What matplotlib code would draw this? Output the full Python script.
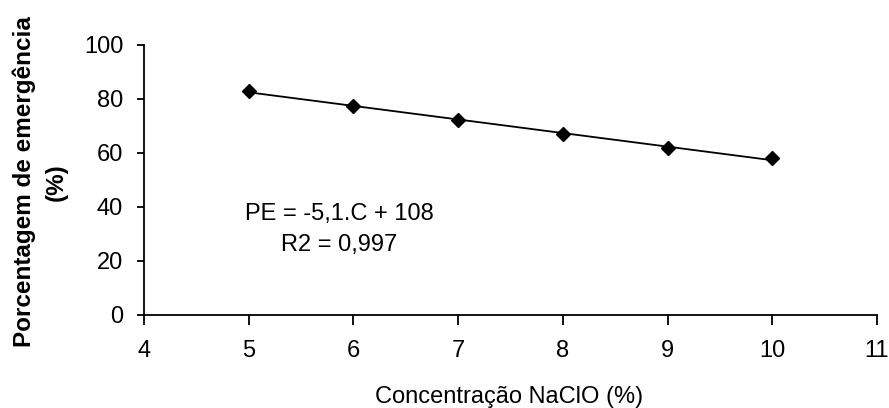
import numpy as np
import matplotlib
matplotlib.use("Agg")
import matplotlib.pyplot as plt

plt.rcParams['font.family'] = ['Liberation Sans', 'DejaVu Sans']

concentracao = [5, 6, 7, 8, 9, 10]
emergencia = [82.8, 77.4, 72.2, 67.0, 61.8, 58.0]
x_ticks = [4, 5, 6, 7, 8, 9, 10, 11]
y_ticks = [0, 20, 40, 60, 80, 100]
equacao = "PE = -5,1.C + 108"
r2_texto = "R2 = 0,997"

fig = plt.figure(figsize=(8.89, 4.08), dpi=100)
ax = fig.add_axes([0.162, 0.228, 0.8245, 0.662])

coef = np.polyfit(concentracao, emergencia, 1)
xs = np.array([min(concentracao), max(concentracao)])
ax.plot(xs, np.polyval(coef, xs), color='black', lw=1.3, zorder=2)
ax.plot(concentracao, emergencia, linestyle='none', marker='D', ms=7,
        color='black', zorder=3)

ax.set_xlim(4, 11)
ax.set_ylim(0, 100)
ax.set_xticks(x_ticks)
ax.set_yticks(y_ticks)
for s in ['top', 'right']:
    ax.spines[s].set_visible(False)
for s in ['left', 'bottom']:
    ax.spines[s].set_linewidth(1.3)
ax.tick_params(direction='out', width=1.3, labelsize=17)
ax.tick_params(axis='x', length=7, pad=11)
ax.tick_params(axis='y', length=5, pad=10)

ax.text(5.867, 37.4, equacao, ha='center', va='center', fontsize=17)
ax.text(5.867, 25.9, r2_texto, ha='center', va='center', fontsize=17)

fig.text(0.573, 0.0123, "Concentração NaClO (%)", ha='center', va='baseline',
         fontsize=17)
fig.text(0.045, 0.554, "Porcentagem de emergência\n(%)", rotation=90,
         ha='center', va='center', fontsize=17.5, fontweight='bold',
         multialignment='center', linespacing=1.45)

fig.savefig("out.png", dpi=100)
